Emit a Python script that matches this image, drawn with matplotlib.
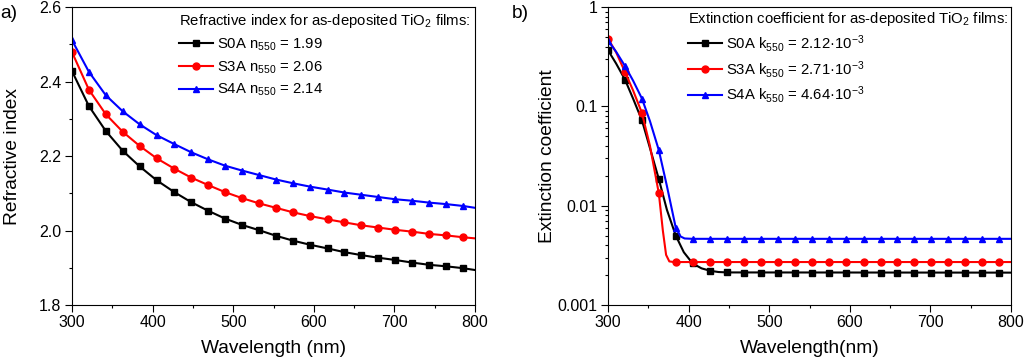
import numpy as np
import matplotlib
matplotlib.use("Agg")
import matplotlib.pyplot as plt
from matplotlib.lines import Line2D
from matplotlib.ticker import MultipleLocator, LogLocator, FixedLocator, FixedFormatter, NullFormatter

plt.rcParams['font.family'] = ['Liberation Sans', 'DejaVu Sans']
plt.rcParams['mathtext.default'] = 'regular'

# marker wavelengths (nm)
wl_m = [300, 321, 342, 363, 384, 405, 427, 448, 469, 490, 511, 532,
        553, 574, 595, 617, 638, 659, 680, 701, 722, 743, 764, 785]
wl_n = wl_m + [800]

# refractive index (markers + end point at 800 nm)
n_s0a = [2.428, 2.334, 2.267, 2.214, 2.172, 2.135, 2.103, 2.076, 2.053, 2.032, 2.015, 2.001,
         1.986, 1.973, 1.962, 1.952, 1.942, 1.934, 1.927, 1.921, 1.914, 1.908, 1.904, 1.899, 1.894]
n_s3a = [2.479, 2.378, 2.312, 2.265, 2.227, 2.194, 2.166, 2.142, 2.122, 2.103, 2.087, 2.073,
         2.061, 2.049, 2.039, 2.030, 2.022, 2.014, 2.008, 2.002, 1.997, 1.991, 1.987, 1.982, 1.979]
n_s4a = [2.511, 2.426, 2.363, 2.320, 2.285, 2.256, 2.232, 2.210, 2.191, 2.174, 2.161, 2.149,
         2.137, 2.127, 2.118, 2.110, 2.102, 2.096, 2.090, 2.084, 2.080, 2.075, 2.071, 2.066, 2.061]

# extinction coefficient at marker wavelengths
k_s0a = [0.367, 0.186, 0.0725, 0.0185, 0.0050, 0.00262, 0.00221, 0.00213] + [0.00212] * 16
k_s3a = [0.48, 0.222, 0.086, 0.0133] + [0.00271] * 20
k_s4a = [0.46, 0.255, 0.120, 0.0362, 0.0060] + [0.00464] * 19

# extinction coefficient curves (finer reading across the absorption edge)
kl_s0a_wl = [300, 310, 321, 331, 342, 352, 363, 373, 384, 394, 405, 416, 427, 437, 448, 800]
kl_s0a = [0.367, 0.27, 0.186, 0.12, 0.0725, 0.038, 0.0185, 0.0091, 0.0050, 0.0034,
          0.00262, 0.00234, 0.00221, 0.00215, 0.00213, 0.00212]
kl_s3a_wl = [300, 310, 321, 331, 342, 352, 363, 368, 372, 376, 380, 384, 800]
kl_s3a = [0.48, 0.35, 0.222, 0.145, 0.086, 0.040, 0.0133, 0.0056, 0.0032, 0.00275,
          0.00272, 0.00271, 0.00271]
kl_s4a_wl = [300, 310, 321, 331, 342, 352, 363, 373, 384, 390, 395, 405, 800]
kl_s4a = [0.46, 0.355, 0.255, 0.182, 0.120, 0.071, 0.0362, 0.0158, 0.0060, 0.0049,
          0.00468, 0.00464, 0.00464]

labels_n = ['S0A n$_{550}$ = 1.99', 'S3A n$_{550}$ = 2.06', 'S4A n$_{550}$ = 2.14']
labels_k = ['S0A k$_{550}$ = 2.12\u00b710$^{-3}$', 'S3A k$_{550}$ = 2.71\u00b710$^{-3}$',
            'S4A k$_{550}$ = 4.64\u00b710$^{-3}$']
colors = ['black', 'red', 'blue']
markers = ['s', 'o', '^']

fig = plt.figure(figsize=(10.24, 3.61), dpi=100)
ax1 = fig.add_axes([0.0703, 0.155, 0.3936, 0.8255])
ax2 = fig.add_axes([0.5938, 0.155, 0.3936, 0.8255])

ms = 5
lw = 1.5
lab_fs = 13.8
leg_fs = 10.7

# a) refractive index
for y, c, m, lab in zip([n_s0a, n_s3a, n_s4a], colors, markers, labels_n):
    ax1.plot(wl_n, y, color=c, marker=m, ms=ms, lw=lw, markevery=slice(0, 24), label=lab)
ax1.set_xlim(300, 800)
ax1.set_ylim(1.8, 2.6)
ax1.yaxis.set_major_locator(MultipleLocator(0.2))
ax1.yaxis.set_minor_locator(MultipleLocator(0.1))
ax1.set_ylabel('Refractive index', fontsize=lab_fs, labelpad=13)
ax1.set_xlabel('Wavelength (nm)', fontsize=lab_fs, labelpad=7)
ax1.legend(loc='upper right', frameon=False, fontsize=leg_fs,
           title='Refractive index for as-deposited TiO$_2$ films:', title_fontsize=leg_fs,
           alignment='left', handlelength=2.3, handletextpad=0.3,
           labelspacing=0.42, borderaxespad=0.0, borderpad=0.35)

# b) extinction coefficient
handles = []
for xl, yl, y, c, m, lab in zip([kl_s0a_wl, kl_s3a_wl, kl_s4a_wl], [kl_s0a, kl_s3a, kl_s4a],
                                [k_s0a, k_s3a, k_s4a], colors, markers, labels_k):
    ax2.plot(xl, yl, color=c, lw=lw)
    ax2.plot(wl_m, y, color=c, marker=m, ms=ms, lw=0)
    handles.append(Line2D([], [], color=c, marker=m, ms=ms, lw=lw, label=lab))
ax2.set_yscale('log')
ax2.set_xlim(300, 800)
ax2.set_ylim(0.001, 1)
ax2.yaxis.set_major_locator(FixedLocator([0.001, 0.01, 0.1, 1]))
ax2.yaxis.set_major_formatter(FixedFormatter(['0.001', '0.01', '0.1', '1']))
ax2.yaxis.set_minor_locator(LogLocator(base=10, subs=np.arange(2, 10)))
ax2.yaxis.set_minor_formatter(NullFormatter())
ax2.set_ylabel('Extinction coefficient', fontsize=lab_fs, labelpad=1)
ax2.set_xlabel('Wavelength(nm)', fontsize=lab_fs, labelpad=7)
ax2.legend(handles=handles, loc='upper right', frameon=False, fontsize=leg_fs,
           title='Extinction coefficient for as-deposited TiO$_2$ films:', title_fontsize=leg_fs,
           alignment='left', handlelength=2.3, handletextpad=0.3,
           labelspacing=0.32, borderaxespad=0.0, borderpad=0.2)

for ax in (ax1, ax2):
    ax.xaxis.set_major_locator(MultipleLocator(100))
    ax.xaxis.set_minor_locator(MultipleLocator(50))
    ax.tick_params(which='both', direction='out', top=False, right=False, labelsize=11.5)
    ax.tick_params(which='major', length=5, width=0.8, pad=2.5)
    ax.tick_params(which='minor', length=2.5, width=0.8)
    for s in ax.spines.values():
        s.set_linewidth(0.8)

fig.text(0.0, 0.985, 'a)', fontsize=lab_fs, ha='left', va='top')
fig.text(0.5, 0.985, 'b)', fontsize=lab_fs, ha='left', va='top')

fig.savefig('out.png', dpi=100)
